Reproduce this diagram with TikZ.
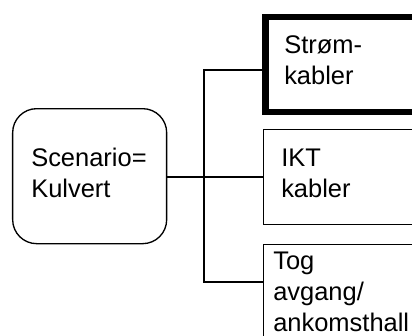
\documentclass[tikz,border=0pt]{standalone}
\usepackage{fontspec}
\setmainfont{Liberation Sans}
\begin{document}
\begin{tikzpicture}[x=0.75pt,y=-0.75pt,
  box/.style={draw, line width=1pt, inner sep=0pt, anchor=north west},
  lbl/.style={anchor=base west, inner sep=0pt, font=\fontsize{19.1}{23}\selectfont},
  wire/.style={draw, line width=1pt}]
\clip (0,0) rectangle (412,336);

% junction points on the vertical bus
\coordinate (j1) at (204,70);
\coordinate (j2) at (204,177);
\coordinate (j3) at (204,282);

% boxes
\node[box, rounded corners=18pt, minimum width=115.5pt, minimum height=101.25pt] (root) at (12,108) {};
\node[box, line width=4.9pt, minimum width=140.6pt, minimum height=71.25pt] (strom) at (262.5,13.5) {};
\node[box, minimum width=140pt, minimum height=71.25pt] (ikt) at (263,129) {};
\node[box, minimum width=140pt, minimum height=90pt] (tog) at (263,244) {};

% connectors
\draw[wire] (strom.west |- j1) -- (j1) -- (j3) -- (tog.west |- j3);
\draw[wire] (root.east |- j2) -- (j2) -- (ikt.west |- j2);

% labels
\node[lbl] (r1) at (31,166) {Scenario=};
\node[lbl] (r2) at (31,197) {Kulvert};
\node[lbl] (s1) at (284,53) {Strøm-};
\node[lbl] (s2) at (284,84) {kabler};
\node[lbl] (i1) at (281,166) {IKT};
\node[lbl] (i2) at (281,197) {kabler};
\node[lbl] (t1) at (273,269) {Tog};
\node[lbl] (t2) at (273,300) {avgang/};
\node[lbl] (t3) at (273,331) {ankomsthall};
\end{tikzpicture}
\end{document}
